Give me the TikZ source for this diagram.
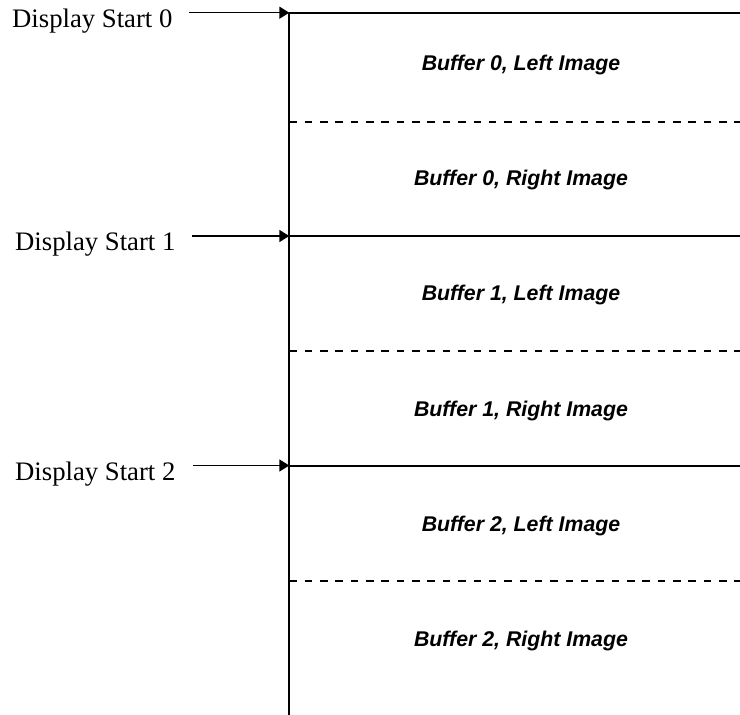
\documentclass[tikz,border=0pt]{standalone}
\usepackage{fontspec}
\setmainfont{Liberation Serif}
\newfontfamily\bufont{Liberation Sans}
\usetikzlibrary{arrows.meta}
\begin{document}
\begin{tikzpicture}[x=1pt,y=-1pt,
  dslabel/.style={anchor=base west,inner sep=0pt,font=\fontsize{26.7}{30}\selectfont},
  buflabel/.style={anchor=base,inner sep=0pt,font=\bufont\bfseries\itshape\fontsize{21.3}{24}\selectfont},
  arr/.style={line width=1.5pt,-{Triangle[length=10pt,width=12pt]}},
  solidline/.style={line width=2pt},
  dashline/.style={line width=2.4pt,dash pattern=on 7.5pt off 7.85pt},
  axisline/.style={line width=2.2pt}]
\useasboundingbox (0,0) rectangle (740,715);
% vertical line
\coordinate (vtop) at (289.3,12.7);
\coordinate (vbot) at (289.3,715);
\draw[axisline] (vtop) -- (vbot);
% tips on the vertical line
\coordinate (t0) at (289.3,12.7);
\coordinate (t1) at (289.3,236);
\coordinate (t2) at (289.3,465.5);
\coordinate (e0) at (740,12.7);
\coordinate (e1) at (740,236);
\coordinate (e2) at (740,465.5);
\coordinate (d0) at (289.3,122);
\coordinate (d1) at (289.3,351);
\coordinate (d2) at (289.3,581);
\coordinate (f0) at (740,122);
\coordinate (f1) at (740,351);
\coordinate (f2) at (740,581);
\draw[solidline] (t0) -- (e0);
\draw[solidline] (t1) -- (e1);
\draw[solidline] (t2) -- (e2);
\draw[dashline] (d0) -- (f0);
\draw[dashline] (d1) -- (f1);
\draw[dashline] (d2) -- (f2);
% display start labels
\node[dslabel] (ds0) at (12,27) {Display Start 0};
\node[dslabel] (ds1) at (15,250.5) {Display Start 1};
\node[dslabel] (ds2) at (15,480) {Display Start 2};
\coordinate (a0) at (189,12.7);
\coordinate (a1) at (192,236);
\coordinate (a2) at (192.7,465.5);
\draw[arr] (a0) -- (t0);
\draw[arr] (a1) -- (t1);
\draw[arr] (a2) -- (t2);
% buffer labels
\node[buflabel] (b0l) at (521,70) {Buffer 0, Left Image};
\node[buflabel] (b0r) at (521,185.3) {Buffer 0, Right Image};
\node[buflabel] (b1l) at (521,300.7) {Buffer 1, Left Image};
\node[buflabel] (b1r) at (521,416) {Buffer 1, Right Image};
\node[buflabel] (b2l) at (521,531.3) {Buffer 2, Left Image};
\node[buflabel] (b2r) at (521,646.7) {Buffer 2, Right Image};
\end{tikzpicture}
\end{document}
